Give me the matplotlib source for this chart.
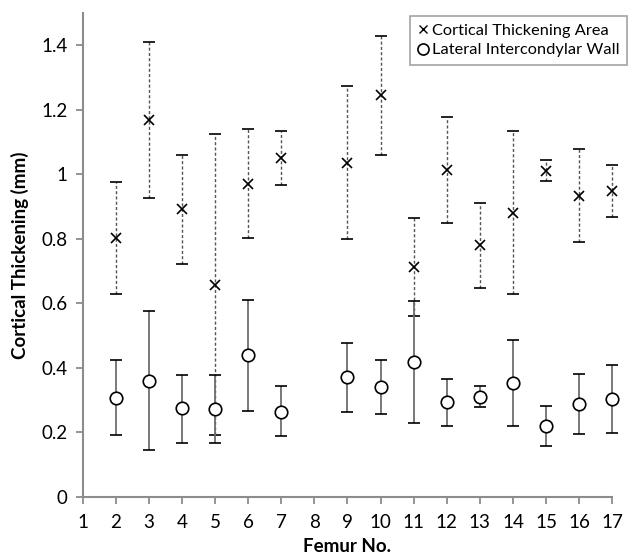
import matplotlib
matplotlib.use("Agg")
import matplotlib.pyplot as plt
from matplotlib.ticker import FuncFormatter
from matplotlib.lines import Line2D

plt.rcParams['font.family'] = ['Lato', 'DejaVu Sans']

# Cortical Thickening Area (femur 2-17, no value for 8)
cta_femur = [2, 3, 4, 5, 6, 7, 9, 10, 11, 12, 13, 14, 15, 16, 17]
cta_mean  = [0.803, 1.167, 0.891, 0.657, 0.970, 1.050, 1.036, 1.244, 0.714, 1.012, 0.780, 0.880, 1.011, 0.932, 0.948]
cta_upper = [0.976, 1.408, 1.060, 1.124, 1.140, 1.135, 1.272, 1.429, 0.865, 1.177, 0.912, 1.133, 1.043, 1.078, 1.030]
cta_lower = [0.629, 0.927, 0.721, 0.192, 0.802, 0.968, 0.799, 1.059, 0.561, 0.849, 0.647, 0.628, 0.979, 0.789, 0.869]

# Lateral Intercondylar Wall
liw_femur = [2, 3, 4, 5, 6, 7, 9, 10, 11, 12, 13, 14, 15, 16, 17]
liw_mean  = [0.307, 0.360, 0.275, 0.274, 0.439, 0.264, 0.371, 0.342, 0.418, 0.293, 0.310, 0.353, 0.220, 0.288, 0.303]
liw_upper = [0.424, 0.577, 0.378, 0.378, 0.609, 0.344, 0.477, 0.425, 0.608, 0.366, 0.343, 0.485, 0.283, 0.381, 0.408]
liw_lower = [0.191, 0.145, 0.169, 0.169, 0.267, 0.188, 0.265, 0.256, 0.228, 0.221, 0.279, 0.221, 0.158, 0.194, 0.199]

x_ticks = list(range(1, 18))
y_ticks = [0, 0.2, 0.4, 0.6, 0.8, 1.0, 1.2, 1.4]

fig = plt.figure(figsize=(6.37, 5.56), dpi=100)
ax = fig.add_axes([0.130, 0.106, 0.831, 0.871])

def yerr(mean, lo, hi):
    return [[m - l for m, l in zip(mean, lo)], [h - m for m, h in zip(mean, hi)]]

spine_col = '#8c8c8c'

def style(e):
    e[0].set_clip_on(False)
    for c in e[1]:
        c.set_markeredgecolor('black')
        c.set_clip_on(False)
    for b in e[2]:
        b.set_clip_on(False)

e1 = ax.errorbar(cta_femur, cta_mean, yerr=yerr(cta_mean, cta_lower, cta_upper),
                 fmt='x', color='black', markersize=7, markeredgewidth=1.2,
                 ecolor='#555555', elinewidth=1.0, capsize=4.5, capthick=2.0, zorder=3)
e1[2][0].set_linestyle((0, (2.2, 1.6)))
style(e1)

e2 = ax.errorbar(liw_femur, liw_mean, yerr=yerr(liw_mean, liw_lower, liw_upper),
                 fmt='o', color='black', markerfacecolor='white', markersize=9,
                 markeredgewidth=1.2, ecolor='#6e6e6e', elinewidth=1.3,
                 capsize=4.5, capthick=2.0, zorder=4)
style(e2)

ax.set_xlim(1, 17)
ax.set_ylim(0, 1.5)
ax.set_xticks(x_ticks)
ax.set_yticks(y_ticks)
ax.yaxis.set_major_formatter(FuncFormatter(lambda v, p: f'{v:g}'))

for s in ['top', 'right']:
    ax.spines[s].set_visible(False)
for s in ['left', 'bottom']:
    ax.spines[s].set_color(spine_col)
    ax.spines[s].set_linewidth(1.5)
ax.tick_params(axis='both', direction='out', length=5, width=1.3, color=spine_col,
               labelsize=13.5, pad=7)
ax.tick_params(axis='y', pad=6)

ax.set_xlabel('Femur No.', fontsize=13.5, fontweight='bold', labelpad=5)
ax.set_ylabel('Cortical Thickening (mm)', fontsize=13.5, fontweight='bold', labelpad=9)

handles = [Line2D([], [], linestyle='none', marker='x', color='black', markersize=6, markeredgewidth=1.0),
           Line2D([], [], linestyle='none', marker='o', markerfacecolor='white', markeredgecolor='black',
                  markersize=8, markeredgewidth=1.2)]
leg = ax.legend(handles, ['Cortical Thickening Area', 'Lateral Intercondylar Wall'],
                loc='upper right', bbox_to_anchor=(1.035, 1.0), fontsize=11.8, frameon=True,
                fancybox=False, handlelength=0.6, handletextpad=0.3, borderpad=0.45,
                labelspacing=0.3, borderaxespad=0.2)
leg.get_frame().set_edgecolor('#8c8c8c')
leg.get_frame().set_linewidth(1.2)

fig.savefig('out.png', dpi=100)
